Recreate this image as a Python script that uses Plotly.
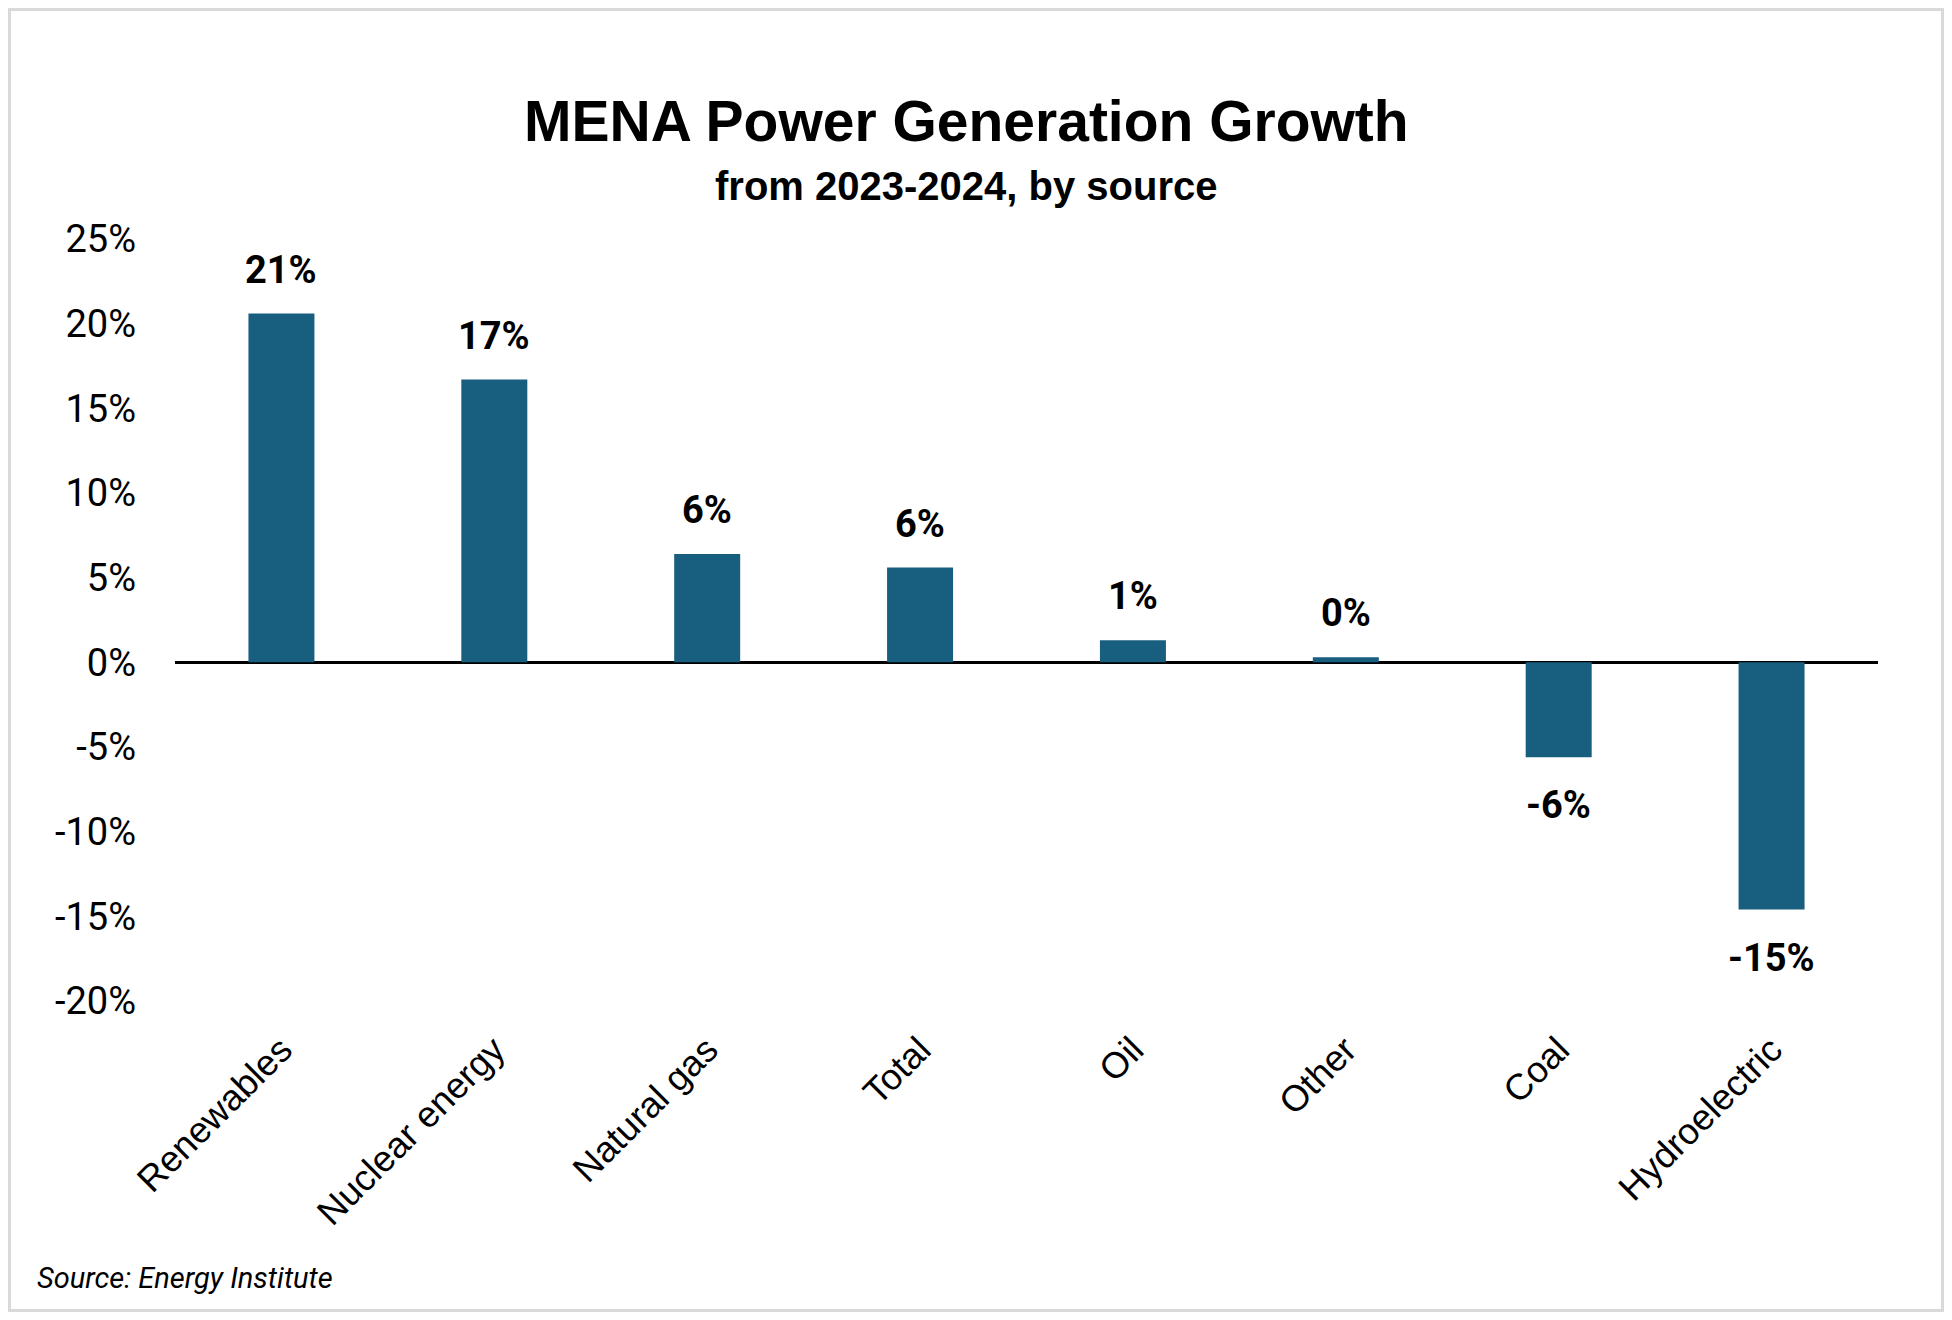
import plotly.graph_objects as go

# MENA power generation growth 2023-2024, by source
sources = ["Renewables", "Nuclear energy", "Natural gas", "Total", "Oil", "Other", "Coal", "Hydroelectric"]
growth = [0.206, 0.167, 0.064, 0.056, 0.013, 0.003, -0.056, -0.146]
labels = ["21%", "17%", "6%", "6%", "1%", "0%", "-6%", "-15%"]
y_ticks = [0.25, 0.20, 0.15, 0.10, 0.05, 0.0, -0.05, -0.10, -0.15, -0.20]
y_tick_text = ["25%", "20%", "15%", "10%", "5%", "0%", "-5%", "-10%", "-15%", "-20%"]

# page body has an 8px margin, so the figure is a bit smaller than the window
OFF = 8
W, H = 1936, 1304
ML, MR, MT, MB = 167, 66, 231, 311
PW, PH = W - ML - MR, H - MT - MB

REG = "Liberation Sans, Arial, sans-serif"
ROB = "Roboto, Liberation Sans, sans-serif"


# window pixel -> paper coordinate
def px_x(x):
    return (x - OFF - ML) / PW


def px_y(y):
    return (H - MB - (y - OFF)) / PH


fig = go.Figure(go.Bar(x=sources, y=growth, marker=dict(color="#185F7F", line=dict(width=0)),
                       width=0.31, hoverinfo="skip"))

ann = []
for s, v, t in zip(sources, growth, labels):
    ann.append(dict(x=s, y=v, text="<b>%s</b>" % t, showarrow=False, yanchor="middle",
                    yshift=44 if v >= 0 else -48,
                    font=dict(family=ROB, size=38, color="black")))

ann.append(dict(xref="paper", yref="paper", x=px_x(966), y=px_y(121), showarrow=False,
                xanchor="center", yanchor="middle",
                text="<b>MENA Power Generation Growth</b>",
                font=dict(family=REG, size=57, color="black")))
ann.append(dict(xref="paper", yref="paper", x=px_x(966), y=px_y(186), showarrow=False,
                xanchor="center", yanchor="middle",
                text="<b>from 2023-2024, by source</b>",
                font=dict(family=REG, size=40, color="black")))
ann.append(dict(xref="paper", yref="paper", x=px_x(35), y=px_y(1278), showarrow=False,
                xanchor="left", yanchor="middle", text="<i>Source: Energy Institute</i>",
                font=dict(family=ROB, size=29, color="black")))

fig.update_layout(
    width=W, height=H,
    margin=dict(l=ML, r=MR, t=MT, b=MB),
    paper_bgcolor="white", plot_bgcolor="white",
    showlegend=False,
    annotations=ann,
    shapes=[dict(type="rect", xref="paper", yref="paper",
                 x0=px_x(OFF + 1.5), x1=px_x(OFF + W - 1.5),
                 y0=px_y(OFF + H - 1.5), y1=px_y(OFF + 1.5),
                 line=dict(color="#D9D9D9", width=3))],
)
fig.update_xaxes(showgrid=False, showline=False, tickangle=-45, ticks="",
                 ticklabelstandoff=19,
                 tickfont=dict(family=REG, size=36.5, color="black"))
fig.update_yaxes(range=[-0.20, 0.25], showgrid=False, showline=False,
                 zeroline=True, zerolinecolor="black", zerolinewidth=2.5,
                 tickvals=y_ticks, ticktext=y_tick_text, ticks="", ticklabelstandoff=38,
                 tickfont=dict(family=ROB, size=38, color="black"))

fig.write_html("out.html")
